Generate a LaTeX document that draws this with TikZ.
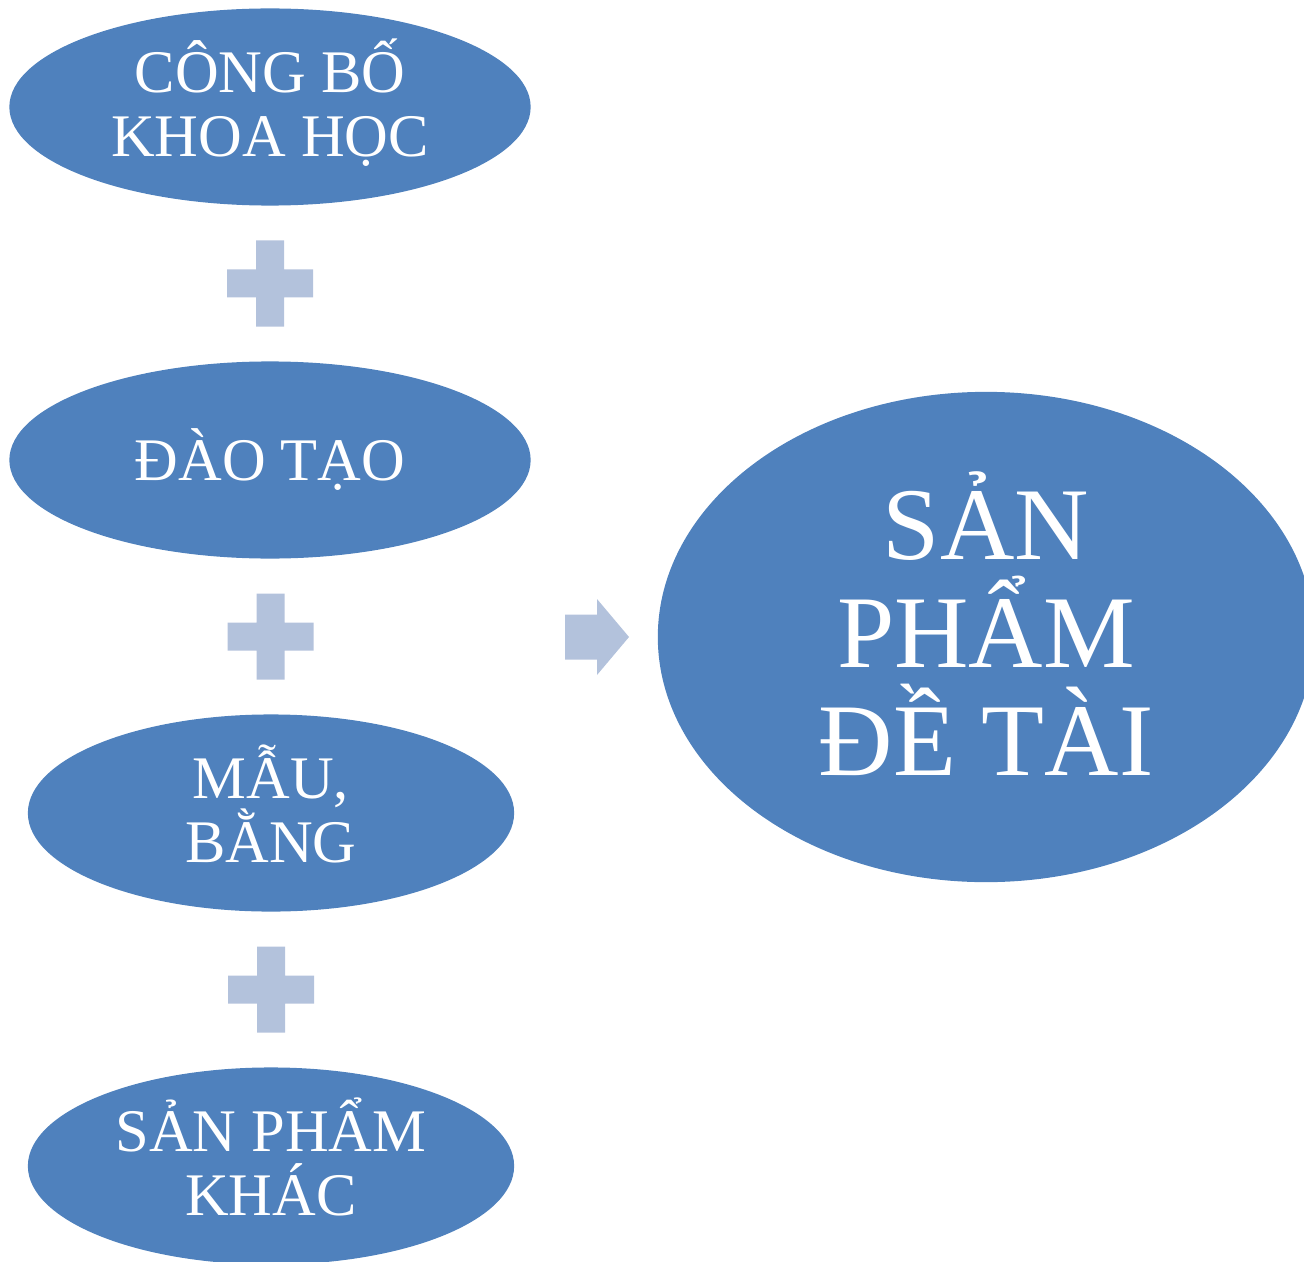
\documentclass[tikz,border=0pt]{standalone}
\usepackage{fontspec}
\setmainfont{Liberation Serif}
\usetikzlibrary{shapes.geometric,calc}
\definecolor{ovalblue}{RGB}{79,129,189}
\definecolor{signblue}{RGB}{179,194,220}
\begin{document}
\begin{tikzpicture}[x=0.01cm,y=-0.01cm]
    \tikzset{
        oval/.style={ellipse,fill=ovalblue,inner sep=0pt,text=white,align=center,
            minimum height=1.97cm,font=\fontsize{17.2}{18}\selectfont,
            text height=0.98cm,text depth=0pt},
        bigoval/.style={oval,minimum width=6.56cm,minimum height=4.9cm,
            font=\fontsize{29.3}{30.6}\selectfont,text height=2.76cm},
        sign/.style={fill=signblue},}
    \def\plusat#1{(#1) +(-14,-43) -- +(14,-43) -- +(14,-14) -- +(43,-14) -- +(43,14)
        -- +(14,14) -- +(14,43) -- +(-14,43) -- +(-14,14) -- +(-43,14) -- +(-43,-14)
        -- +(-14,-14) -- cycle}
    \useasboundingbox (0,0) rectangle (1304,1261);
    \clip (0,0) rectangle (1304,1261);
    \node [oval,minimum width=5.21cm] (congbo) at (270,107) {CÔNG BỐ\\KHOA HỌC};
    \node [oval,minimum width=5.21cm,text height=0.4cm] (daotao) at (270,460) {ĐÀO TẠO};
    \node [oval,minimum width=4.86cm] (mau) at (271,813) {MẪU,\\BẰNG};
    \node [oval,minimum width=4.86cm] (khac) at (271,1166) {SẢN PHẨM\\KHÁC};
    \node [bigoval] (detai) at (986,637) {SẢN\\PHẨM\\ĐỀ TÀI};
    % plus signs between the ovals
    \coordinate (plus1) at ($(congbo.south)!0.5!(daotao.north)$);
    \coordinate (plus2) at ($(daotao.south)!0.5!(mau.north)$);
    \coordinate (plus3) at ($(mau.south)!0.5!(khac.north)$);
    \foreach \p in {plus1,plus2,plus3}
        \fill [sign] \plusat{\p};
    % block arrow
    \coordinate (arrow) at (565,637);
    \fill [sign] (arrow) +(0,-22.5) -- +(32,-22.5) -- +(32,-38) -- +(64,0)
        -- +(32,38) -- +(32,22.5) -- +(0,22.5) -- cycle;
\end{tikzpicture}
\end{document}
